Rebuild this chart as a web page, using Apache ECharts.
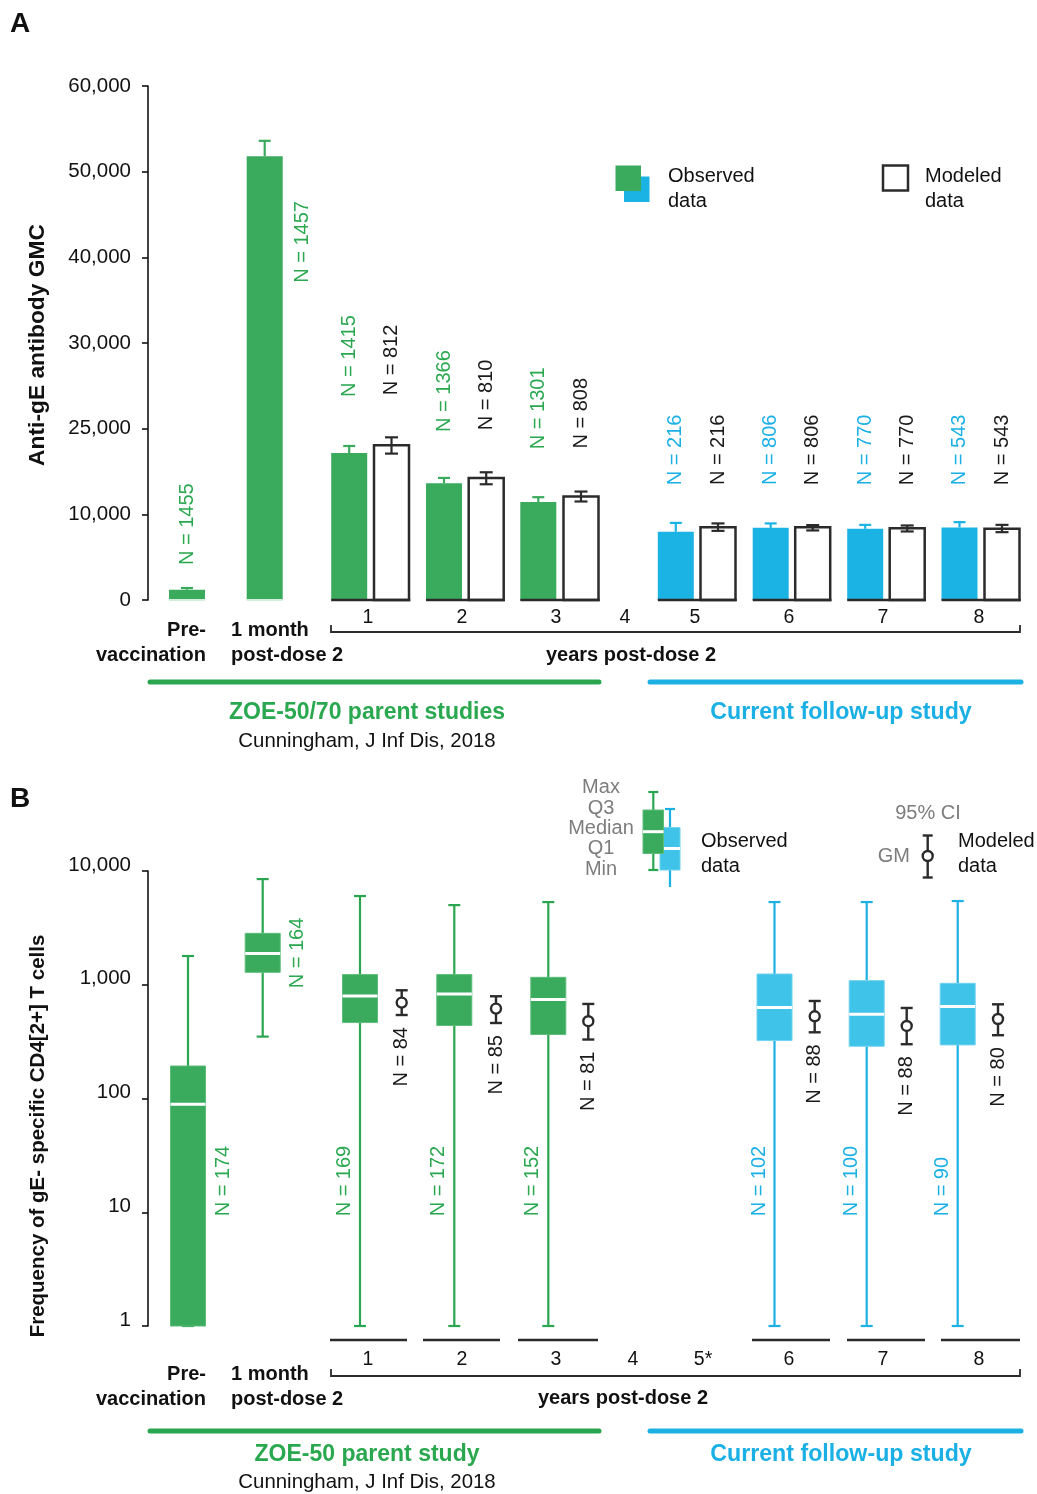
<!DOCTYPE html>
<html>
<head>
<meta charset="utf-8">
<script src="https://cdn.jsdelivr.net/npm/echarts/dist/echarts.min.js"></script>
<style>html,body{margin:0;padding:0;background:#fff}#c{width:1037px;height:1494px}</style>
</head>
<body>
<div id="c"></div>
<script>
// ---------------- DATA ----------------
// Panel A: anti-gE antibody GMC (bars)
const catsA      = ['Pre-vaccination', '1 month post-dose 2', '1', '2', '3', '5', '6', '7', '8'];
const studyA     = ['parent', 'parent', 'parent', 'parent', 'parent', 'follow-up', 'follow-up', 'follow-up', 'follow-up'];
const obsGMC     = [1200, 51800, 17160, 13630, 11450, 7960, 8420, 8310, 8470];
const obsUpper   = [1400, 53600, 17980, 14250, 12000, 9000, 8940, 8770, 9090];
const obsN_A     = [1455, 1457, 1415, 1366, 1301, 216, 806, 770, 543];
const catsModA   = ['1', '2', '3', '5', '6', '7', '8'];
const modGMC     = [18060, 14250, 12080, 8500, 8500, 8390, 8310];
const modLower   = [17090, 13510, 11500, 8070, 8120, 8000, 7920];
const modUpper   = [18990, 14910, 12660, 8940, 8740, 8700, 8770];
const modN_A     = [812, 810, 808, 216, 806, 770, 543];
const ticksA     = [0, 10000, 20000, 30000, 40000, 50000, 60000];
const tickTextA  = ['0', '10,000', '25,000', '30,000', '40,000', '50,000', '60,000'];

// Panel B: frequency of gE-specific CD4[2+] T cells (box plots)
const catsB      = ['Pre-vaccination', '1 month post-dose 2', '1', '2', '3', '6', '7', '8'];
const studyB     = ['parent', 'parent', 'parent', 'parent', 'parent', 'follow-up', 'follow-up', 'follow-up'];
const boxMin     = [1, 350, 1, 1, 1, 1, 1, 1];
const boxQ1      = [1, 1286, 465, 438, 365, 323, 288, 296];
const boxMedian  = [89, 1878, 797, 829, 741, 630, 550, 643];
const boxQ3      = [193, 2831, 1228, 1228, 1162, 1243, 1087, 1030];
const boxMax     = [1789, 8490, 6023, 5015, 5333, 5333, 5333, 5443];
const boxN       = [174, 164, 169, 172, 152, 102, 100, 90];
const catsGM     = ['1', '2', '3', '6', '7', '8'];
const gmValue    = [697, 617, 478, 528, 434, 500];
const gmLower    = [542, 461, 330, 382, 300, 360];
const gmUpper    = [894, 792, 678, 720, 625, 673];
const gmN        = [84, 85, 81, 88, 88, 80];

const yearLabelsA = ['1', '2', '3', '4', '5', '6', '7', '8'];
const yearLabelsB = ['1', '2', '3', '4', '5*', '6', '7', '8'];

// ---------------- LAYOUT / STYLE ----------------
const FONT = '"Liberation Sans", Arial, Helvetica, sans-serif';
const GREEN = '#3aaa5c', GREEN_LINE = '#2aa650', GREEN_T = '#2aa84f';
const BLUE = '#1ab3e3', BLUE_BOX = '#40c3e9', BLUE_LINE = '#1cb0e3', BLUE_T = '#1ab0e6';
const DARK = '#2b2b2b', GREY_T = '#7d7d7d';
// x positions (axis units = px from the y axis line)
const X_OBS_A = [39, 116.7, 201.2, 296, 390.3, 527.8, 622.7, 717.2, 811.5];
const X_MOD_A = [243.5, 338.2, 433, 570, 664.7, 759.2, 854];
const OBS_W_A = 36, MOD_W_A = 37.5;
const A_OBS_LABEL_DX  = [0, 38, 0, 0, 0, 0, 0, 0, 0];
const A_OBS_LABEL_GAP = [23, -142, 49, 46, 48, 37.7, 38.3, 39.7, 37];
const A_MOD_LABEL_GAP = [42, 42, 43, 38.3, 40, 40.3, 39.7];
const X_BOX_B = [40, 114.7, 212, 306.3, 400.3, 626.5, 718.7, 809.7];
const X_GM_B  = [253.7, 348, 440.3, 666.7, 758.7, 850];
const BOX_W_B = 35;
const B_OBS_LABEL_DX = [35.5, 35, -15.5, -15.5, -15.5, -15.5, -15.5, -15.5];
const B_OBS_LABEL_AT = [9.2, null, 9.2, 9.2, 9.2, 9.2, 9.2, 9.2]; // null: just below Q1
const YEAR_X_A = [368, 462, 556, 625, 695, 789, 883, 979];
const YEAR_X_B = [368, 462, 556, 633, 703, 789, 883, 979];
const SEG_B = [[330, 407], [423, 500], [518, 598], [752, 830], [847, 925], [941, 1020]];

function vtext(x, y, txt, fill, align) {
  return {type: 'text', x: x, y: y, rotation: Math.PI / 2,
    style: {text: txt, fill: fill, font: '20px ' + FONT, align: align, verticalAlign: 'middle'}};
}

function renderObsA(params, api) {
  const i = params.dataIndex;
  const x = api.value(0);
  const p0 = api.coord([x, 0]), p1 = api.coord([x, api.value(1)]), pc = api.coord([x, api.value(2)]);
  const fu = studyA[i] === 'follow-up';
  const col = fu ? BLUE : GREEN;
  const w = OBS_W_A;
  const ch = [
    {type: 'rect', shape: {x: p0[0] - w / 2, y: p1[1], width: w, height: p0[1] - p1[1]}, style: {fill: col}},
    {type: 'line', shape: {x1: p0[0], y1: p1[1], x2: p0[0], y2: pc[1]}, style: {stroke: col, lineWidth: 2.2}},
    {type: 'line', shape: {x1: p0[0] - 6, y1: pc[1], x2: p0[0] + 6, y2: pc[1]}, style: {stroke: col, lineWidth: 2.2}},
    vtext(p0[0] + A_OBS_LABEL_DX[i], pc[1] - A_OBS_LABEL_GAP[i], 'N = ' + obsN_A[i], fu ? BLUE_T : GREEN_T, 'left')
  ];
  if (!fu) {
    ch.push({type: 'line', shape: {x1: p0[0] - w / 2, y1: p0[1], x2: p0[0] + w / 2, y2: p0[1]},
      style: {stroke: '#d3eedb', lineWidth: 2}});
  }
  return {type: 'group', children: ch};
}

function renderModA(params, api) {
  const i = params.dataIndex;
  const x = api.value(0);
  const p0 = api.coord([x, 0]), p1 = api.coord([x, api.value(1)]);
  const plo = api.coord([x, api.value(2)]), phi = api.coord([x, api.value(3)]);
  const w = MOD_W_A;
  const segL = api.coord([X_OBS_A[i + 2], 0])[0] - OBS_W_A / 2;
  return {type: 'group', children: [
    {type: 'rect', shape: {x: p0[0] - w / 2 + 1.25, y: p1[1], width: w - 2.5, height: p0[1] - p1[1]},
      style: {fill: '#fff', stroke: DARK, lineWidth: 2.5}},
    {type: 'line', shape: {x1: segL, y1: p0[1], x2: p0[0] + w / 2, y2: p0[1]}, style: {stroke: DARK, lineWidth: 2.5}},
    {type: 'line', shape: {x1: p0[0], y1: plo[1], x2: p0[0], y2: phi[1]}, style: {stroke: DARK, lineWidth: 2.2}},
    {type: 'line', shape: {x1: p0[0] - 6.5, y1: plo[1], x2: p0[0] + 6.5, y2: plo[1]}, style: {stroke: DARK, lineWidth: 2.2}},
    {type: 'line', shape: {x1: p0[0] - 6.5, y1: phi[1], x2: p0[0] + 6.5, y2: phi[1]}, style: {stroke: DARK, lineWidth: 2.2}},
    vtext(p0[0], phi[1] - A_MOD_LABEL_GAP[i], 'N = ' + modN_A[i], '#1a1a1a', 'left')
  ]};
}

function renderBoxB(params, api) {
  const i = params.dataIndex;
  const x = api.value(0);
  const pmin = api.coord([x, api.value(1)]), pq1 = api.coord([x, api.value(2)]);
  const pmed = api.coord([x, api.value(3)]), pq3 = api.coord([x, api.value(4)]);
  const pmax = api.coord([x, api.value(5)]);
  const fu = studyB[i] === 'follow-up';
  const fill = fu ? BLUE_BOX : GREEN, line = fu ? BLUE_LINE : GREEN_LINE, edge = fu ? '#6fd2ef' : '#5cbd78';
  const cx = pmin[0], w = BOX_W_B;
  const ly = B_OBS_LABEL_AT[i] === null ? pq1[1] + 16 : api.coord([x, B_OBS_LABEL_AT[i]])[1];
  return {type: 'group', children: [
    {type: 'line', shape: {x1: cx, y1: pq3[1], x2: cx, y2: pmax[1]}, style: {stroke: line, lineWidth: 2.2}},
    {type: 'line', shape: {x1: cx - 6, y1: pmax[1], x2: cx + 6, y2: pmax[1]}, style: {stroke: line, lineWidth: 2.2}},
    {type: 'line', shape: {x1: cx, y1: pq1[1], x2: cx, y2: pmin[1]}, style: {stroke: line, lineWidth: 2.2}},
    {type: 'line', shape: {x1: cx - 6, y1: pmin[1], x2: cx + 6, y2: pmin[1]}, style: {stroke: line, lineWidth: 2.2}},
    {type: 'rect', shape: {x: cx - w / 2, y: pq3[1], width: w, height: pq1[1] - pq3[1]},
      style: {fill: fill, stroke: edge, lineWidth: 1}},
    {type: 'line', shape: {x1: cx - w / 2, y1: pmed[1], x2: cx + w / 2, y2: pmed[1]}, style: {stroke: '#fff', lineWidth: 3}},
    vtext(cx + B_OBS_LABEL_DX[i], ly, 'N = ' + boxN[i], fu ? BLUE_T : GREEN_T, 'left')
  ]};
}

function renderGmB(params, api) {
  const i = params.dataIndex;
  const x = api.value(0);
  const p = api.coord([x, api.value(1)]), plo = api.coord([x, api.value(2)]), phi = api.coord([x, api.value(3)]);
  const cx = p[0];
  return {type: 'group', children: [
    {type: 'line', shape: {x1: cx, y1: plo[1], x2: cx, y2: phi[1]}, style: {stroke: DARK, lineWidth: 2.4}},
    {type: 'line', shape: {x1: cx - 6, y1: plo[1], x2: cx + 6, y2: plo[1]}, style: {stroke: DARK, lineWidth: 2.4}},
    {type: 'line', shape: {x1: cx - 6, y1: phi[1], x2: cx + 6, y2: phi[1]}, style: {stroke: DARK, lineWidth: 2.4}},
    {type: 'circle', shape: {cx: cx, cy: p[1], r: 5}, style: {fill: '#fff', stroke: DARK, lineWidth: 2.4}},
    vtext(cx, plo[1] + 12, 'N = ' + gmN[i], '#1a1a1a', 'right')
  ]};
}

// ---------------- static annotations ----------------
function T(x, y, text, opt) {
  opt = opt || {};
  const al = opt.align || 'left';
  return {type: 'text', x: x, y: y, silent: true, rotation: opt.rot || 0,
    style: {text: text, fill: opt.color || '#111',
      font: (opt.bold ? 'bold ' : '') + (opt.size || 20) + 'px ' + FONT,
      align: al, textAlign: al, verticalAlign: 'middle', textVerticalAlign: 'middle',
      lineHeight: opt.lh || 25}};
}
function L(x1, y1, x2, y2, color, w, cap) {
  return {type: 'line', silent: true, shape: {x1: x1, y1: y1, x2: x2, y2: y2},
    style: {stroke: color, lineWidth: w, lineCap: cap || 'butt'}};
}
function PL(points, color, w) {
  return {type: 'polyline', silent: true, shape: {points: points}, style: {stroke: color, lineWidth: w, fill: null}};
}

const graphics = [];
// panel letters
graphics.push(T(10, 24, 'A', {bold: true, size: 28}));
graphics.push(T(10, 799, 'B', {bold: true, size: 28}));
// axis names
graphics.push(T(38, 345, 'Anti-gE antibody GMC', {bold: true, size: 22.8, align: 'center', rot: Math.PI / 2}));
graphics.push(T(38, 1136, 'Frequency of gE- specific CD4[2+] T cells', {bold: true, size: 20.5, align: 'center', rot: Math.PI / 2}));

// legend A
graphics.push({type: 'rect', silent: true, shape: {x: 624, y: 176.5, width: 25.5, height: 25.5}, style: {fill: BLUE}});
graphics.push({type: 'rect', silent: true, shape: {x: 615.5, y: 165.5, width: 25.5, height: 25.5}, style: {fill: GREEN}});
graphics.push(T(668, 189, 'Observed\ndata', {}));
graphics.push({type: 'rect', silent: true, shape: {x: 883, y: 165.5, width: 25, height: 25}, style: {fill: '#fff', stroke: DARK, lineWidth: 2.5}});
graphics.push(T(925, 189, 'Modeled\ndata', {}));

// x labels A
yearLabelsA.forEach(function (t, k) { graphics.push(T(YEAR_X_A[k], 618, t, {size: 19.5, align: 'center'})); });
graphics.push(PL([[331, 625], [331, 632], [1020, 632], [1020, 625]], DARK, 1.8));
graphics.push(T(206, 642.5, 'Pre-\nvaccination', {bold: true, align: 'right'}));
graphics.push(T(231, 642.5, '1 month\npost-dose 2', {bold: true}));
graphics.push(T(631, 655, 'years post-dose 2', {bold: true, align: 'center'}));
graphics.push(L(150, 682, 599, 682, GREEN_LINE, 5, 'round'));
graphics.push(L(650, 682, 1021, 682, BLUE_LINE, 5, 'round'));
graphics.push(T(367, 713, 'ZOE-50/70 parent studies', {bold: true, size: 23, align: 'center', color: GREEN_T}));
graphics.push(T(841, 713, 'Current follow-up study', {bold: true, size: 23.2, align: 'center', color: BLUE_T}));
graphics.push(T(367, 741, 'Cunningham, J Inf Dis, 2018', {size: 20.4, align: 'center'}));

// legend B
graphics.push(T(601, 828.5, 'Max\nQ3\nMedian\nQ1\nMin', {align: 'center', color: GREY_T, lh: 20.3}));
// blue legend box (behind)
graphics.push(L(670, 809, 670, 887, BLUE_LINE, 2.2));
graphics.push(L(665, 809, 675, 809, BLUE_LINE, 2.2));
graphics.push({type: 'rect', silent: true, shape: {x: 660, y: 827.5, width: 20, height: 42.5}, style: {fill: BLUE_BOX, stroke: '#6fd2ef', lineWidth: 1}});
graphics.push(L(660, 848.5, 680, 848.5, '#fff', 3));
// green legend box
graphics.push(L(653.3, 792, 653.3, 870, GREEN_LINE, 2.2));
graphics.push(L(648.3, 792, 658.3, 792, GREEN_LINE, 2.2));
graphics.push(L(648.3, 870, 658.3, 870, GREEN_LINE, 2.2));
graphics.push({type: 'rect', silent: true, shape: {x: 643, y: 810, width: 20.5, height: 43.5}, style: {fill: GREEN, stroke: '#5cbd78', lineWidth: 1}});
graphics.push(L(643, 831.7, 663.5, 831.7, '#fff', 3));
graphics.push(T(701, 854, 'Observed\ndata', {}));
graphics.push(T(928, 813.5, '95% CI', {align: 'center', color: GREY_T}));
graphics.push(T(910, 856.5, 'GM', {align: 'right', color: GREY_T}));
graphics.push(L(927.7, 835.5, 927.7, 877.5, DARK, 2.4));
graphics.push(L(922.7, 835.5, 932.7, 835.5, DARK, 2.4));
graphics.push(L(922.7, 877.5, 932.7, 877.5, DARK, 2.4));
graphics.push({type: 'circle', silent: true, shape: {cx: 927.7, cy: 856, r: 5}, style: {fill: '#fff', stroke: DARK, lineWidth: 2.4}});
graphics.push(T(958, 854, 'Modeled\ndata', {}));

// x labels B
SEG_B.forEach(function (s) { graphics.push(L(s[0], 1340, s[1], 1340, DARK, 2.5)); });
yearLabelsB.forEach(function (t, k) { graphics.push(T(YEAR_X_B[k], 1360, t, {size: 19.5, align: 'center'})); });
graphics.push(PL([[331, 1369], [331, 1376], [1020, 1376], [1020, 1369]], DARK, 1.8));
graphics.push(T(206, 1386.5, 'Pre-\nvaccination', {bold: true, align: 'right'}));
graphics.push(T(231, 1386.5, '1 month\npost-dose 2', {bold: true}));
graphics.push(T(623, 1398, 'years post-dose 2', {bold: true, align: 'center'}));
graphics.push(L(150, 1431, 599, 1431, GREEN_LINE, 5, 'round'));
graphics.push(L(650, 1431, 1021, 1431, BLUE_LINE, 5, 'round'));
graphics.push(T(367, 1455, 'ZOE-50 parent study', {bold: true, size: 23, align: 'center', color: GREEN_T}));
graphics.push(T(841, 1455, 'Current follow-up study', {bold: true, size: 23.2, align: 'center', color: BLUE_T}));
graphics.push(T(367, 1482, 'Cunningham, J Inf Dis, 2018', {size: 20.4, align: 'center'}));

// ---------------- CHART ----------------
const axisStyle = {
  axisLine: {show: true, lineStyle: {color: '#111', width: 1.6}},
  axisTick: {show: true, length: 6, lineStyle: {color: '#111', width: 1.6}},
  splitLine: {show: false}
};

const option = {
  animation: false,
  backgroundColor: '#fff',
  grid: [
    {left: 148, top: 86, width: 889, height: 514},
    {left: 148, top: 871, width: 889, height: 455}
  ],
  xAxis: [
    {type: 'value', gridIndex: 0, min: 0, max: 889, show: false},
    {type: 'value', gridIndex: 1, min: 0, max: 889, show: false}
  ],
  yAxis: [
    Object.assign({type: 'value', gridIndex: 0, min: ticksA[0], max: ticksA[ticksA.length - 1], interval: 10000,
      axisLabel: {margin: 17, fontSize: 20.5, color: '#111', fontFamily: FONT,
        formatter: function (v) { const k = ticksA.indexOf(v); return k >= 0 ? tickTextA[k] : ''; }}}, axisStyle),
    Object.assign({type: 'log', logBase: 10, gridIndex: 1, min: 1, max: 10000,
      axisLabel: {margin: 17, fontSize: 20.5, color: '#111', fontFamily: FONT, verticalAlign: 'bottom', lineHeight: 12,
        formatter: function (v) { return Number(v).toLocaleString('en-US'); }}}, axisStyle)
  ],
  graphic: {elements: graphics},
  series: [
    {type: 'custom', name: 'Observed A', xAxisIndex: 0, yAxisIndex: 0, clip: false, silent: true,
      encode: {x: 0, y: [1, 2]}, renderItem: renderObsA,
      data: catsA.map(function (c, i) { return [X_OBS_A[i], obsGMC[i], obsUpper[i]]; })},
    {type: 'custom', name: 'Modeled A', xAxisIndex: 0, yAxisIndex: 0, clip: false, silent: true,
      encode: {x: 0, y: [1, 2, 3]}, renderItem: renderModA,
      data: catsModA.map(function (c, i) { return [X_MOD_A[i], modGMC[i], modLower[i], modUpper[i]]; })},
    {type: 'custom', name: 'Observed B', xAxisIndex: 1, yAxisIndex: 1, clip: false, silent: true,
      encode: {x: 0, y: [1, 2, 3, 4, 5]}, renderItem: renderBoxB,
      data: catsB.map(function (c, i) { return [X_BOX_B[i], boxMin[i], boxQ1[i], boxMedian[i], boxQ3[i], boxMax[i]]; })},
    {type: 'custom', name: 'Modeled B', xAxisIndex: 1, yAxisIndex: 1, clip: false, silent: true,
      encode: {x: 0, y: [1, 2, 3]}, renderItem: renderGmB,
      data: catsGM.map(function (c, i) { return [X_GM_B[i], gmValue[i], gmLower[i], gmUpper[i]]; })}
  ]
};

const chart = echarts.init(document.getElementById('c'));
chart.setOption(option);
</script>
</body>
</html>
